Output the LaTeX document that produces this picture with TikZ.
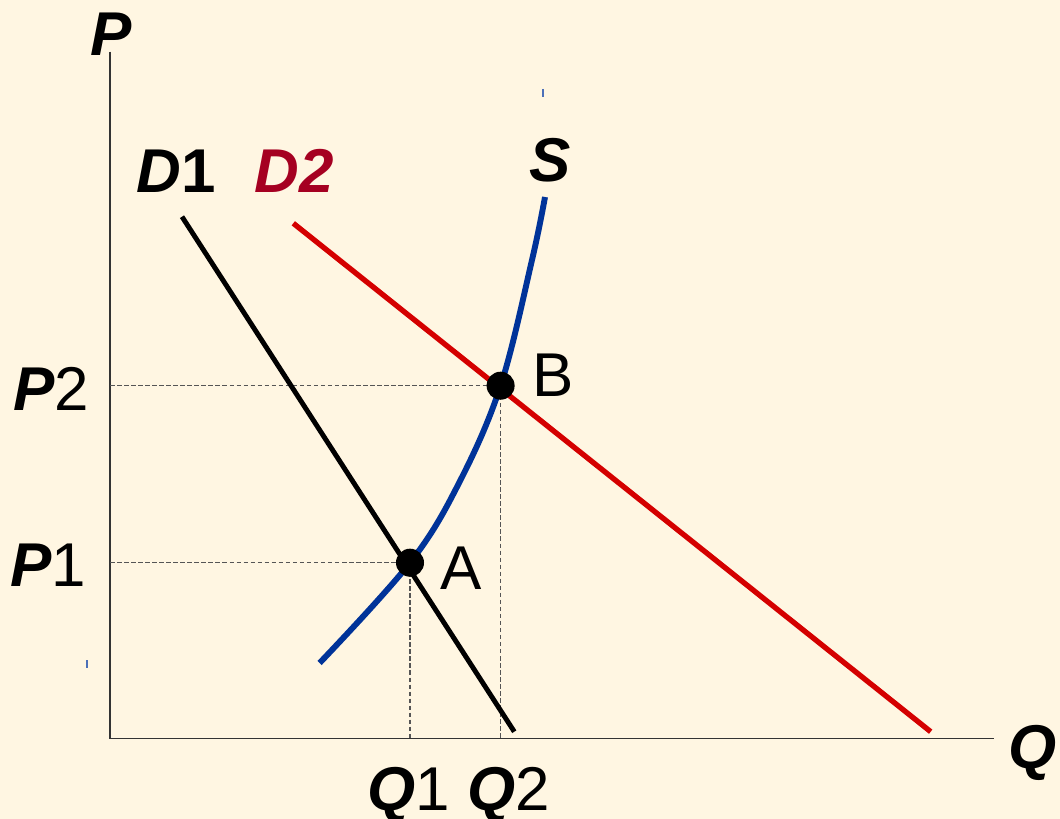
\documentclass[tikz,border=0pt]{standalone}
\usepackage{fontspec}
\setmainfont{Liberation Sans}
\usetikzlibrary{calc,positioning}
\definecolor{bgCream}{HTML}{FFF6E2}
\definecolor{axisGray}{HTML}{333333}
\definecolor{dashGray}{HTML}{555555}
\definecolor{supplyBlue}{HTML}{003399}
\definecolor{demandRed}{HTML}{D40000}
\definecolor{labelRed}{HTML}{A50021}
\begin{document}
\begin{tikzpicture}[x=0.025cm,y=-0.025cm,
  lbl/.style={anchor=base,inner sep=0pt,font=\fontsize{44}{50}\selectfont},
  guide/.style={dashGray,line width=1pt,dash pattern=on 3.2pt off 1.8pt},
  dot/.style={circle,fill=black,inner sep=0pt,minimum size=0.7cm}]
\fill[bgCream] (0,0) rectangle (1060,819);
\useasboundingbox (0,0) rectangle (1060,819);
\coordinate (O) at (110,738.5);
\coordinate (pTop) at (110,51.7);
\coordinate (qEnd) at (994.3,738.5);
\draw[axisGray,line width=1.4pt] (pTop) -- (O) -- (qEnd);
\coordinate (ptA) at (410,562.7);
\coordinate (ptB) at (500.6,385.7);
\foreach \pt in {ptA,ptB}{
  \draw[guide] (O |- \pt) -- (\pt) -- (\pt |- O);
}
\coordinate (dOneTop) at (182,216.7);
\coordinate (dOneEnd) at (514.3,731.7);
\coordinate (dTwoTop) at (293.3,223.3);
\coordinate (dTwoEnd) at (930.7,731.7);
\draw[black,line width=3.5pt] (dOneTop) -- (dOneEnd);
\draw[demandRed,line width=3.8pt] (dTwoTop) -- (dTwoEnd);
\draw[supplyBlue,line width=4.2pt] plot[smooth,tension=0.6]
  coordinates {(319.6,663) (410,562.7) (459,483) (500.6,385.7) (532,260) (545,197)};
\draw[supplyBlue!70,line width=0.8pt] (543,89) -- (543,97);
\draw[supplyBlue!70,line width=0.8pt] (87,660) -- (87,668);
\node[dot] (A) at (ptA) {};
\node[dot] (B) at (ptB) {};
\node[lbl] (pLbl) at (111.5,56) {\bfseries\itshape P};
\node[lbl] (qLbl) at (1032.5,768) {\bfseries\itshape Q};
\node[lbl] (pTwo) at (51,410.5) {{\bfseries\itshape P}2};
\node[lbl] (pOne) at (48,586) {{\bfseries\itshape P}1};
\node[lbl] (qOne) at (408.5,810) {{\bfseries\itshape Q}1};
\node[lbl] (qTwo) at (509,810) {{\bfseries\itshape Q}2};
\node[lbl] (aLbl) at (461,589) {A};
\node[lbl] (bLbl) at (553.5,397) {B};
\node[lbl] (dOne) at (176,193) {{\bfseries\itshape D}\bfseries 1};
\node[lbl,labelRed] (dTwo) at (294.5,193) {\bfseries\itshape D2};
\node[lbl] (sLbl) at (550.5,182) {\bfseries\itshape S};
\end{tikzpicture}
\end{document}
